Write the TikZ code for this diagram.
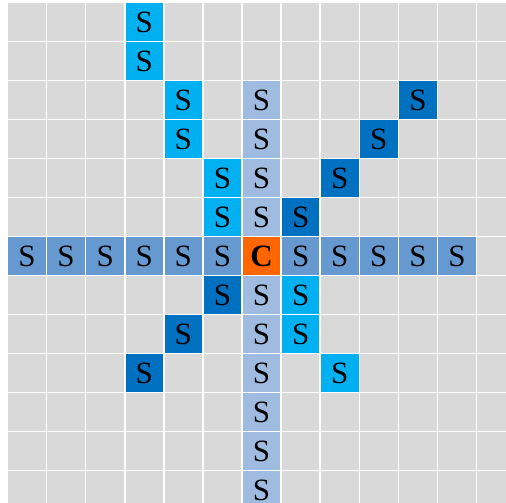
\documentclass[tikz,border=0pt]{standalone}
\usepackage{fontspec}
\setmainfont{Liberation Serif}
\definecolor{gridgray}{HTML}{D9D9D9}
\definecolor{vertblue}{HTML}{9FBBDF}
\definecolor{horzblue}{HTML}{6699CF}
\definecolor{cyanblue}{HTML}{00B0F0}
\definecolor{darkblue}{HTML}{0070C0}
\definecolor{centreorange}{HTML}{FF6600}
\begin{document}
\begin{tikzpicture}[
  x=39.1pt, y=-39pt,
  cell/.style={rectangle, anchor=north west, inner sep=0pt, minimum width=37.5pt,
               minimum height=37.4pt, fill=gridgray, font=\fontsize{31}{32}\selectfont},
  vert/.style={cell, fill=vertblue},
  horz/.style={cell, fill=horzblue},
  diagl/.style={cell, fill=cyanblue},
  diagr/.style={cell, fill=darkblue},
  centre/.style={cell, fill=centreorange, font=\fontsize{31}{32}\selectfont\bfseries}
]
\useasboundingbox (0pt,0pt) rectangle (506pt,-503pt);
\clip (0pt,0pt) rectangle (506pt,-503pt);
\fill[white] (0pt,0pt) rectangle (506pt,-503pt);
\begin{scope}[shift={(8pt,-3pt)}]
% empty grid
\foreach \r in {0,...,12}
  \foreach \c in {0,...,12}
    \node[cell] (g-\r-\c) at (\c,\r) {};
% row and column through the centre
\foreach \c in {0,...,5,7,8,9,10,11}
  \node[horz] (h-\c) at (\c,6) {S};
\foreach \r in {2,3,4,5,7,8,9,10,11,12}
  \node[vert] (v-\r) at (6,\r) {S};
% diagonals
\foreach \c/\r in {3/0,3/1,4/2,4/3,5/4,5/5,7/7,7/8,8/9}
  \node[diagl] (dl-\r-\c) at (\c,\r) {S};
\foreach \c/\r in {10/2,9/3,8/4,7/5,5/7,4/8,3/9}
  \node[diagr] (dr-\r-\c) at (\c,\r) {S};
\node[centre] (c) at (6,6) {C};
\end{scope}
\end{tikzpicture}
\end{document}
